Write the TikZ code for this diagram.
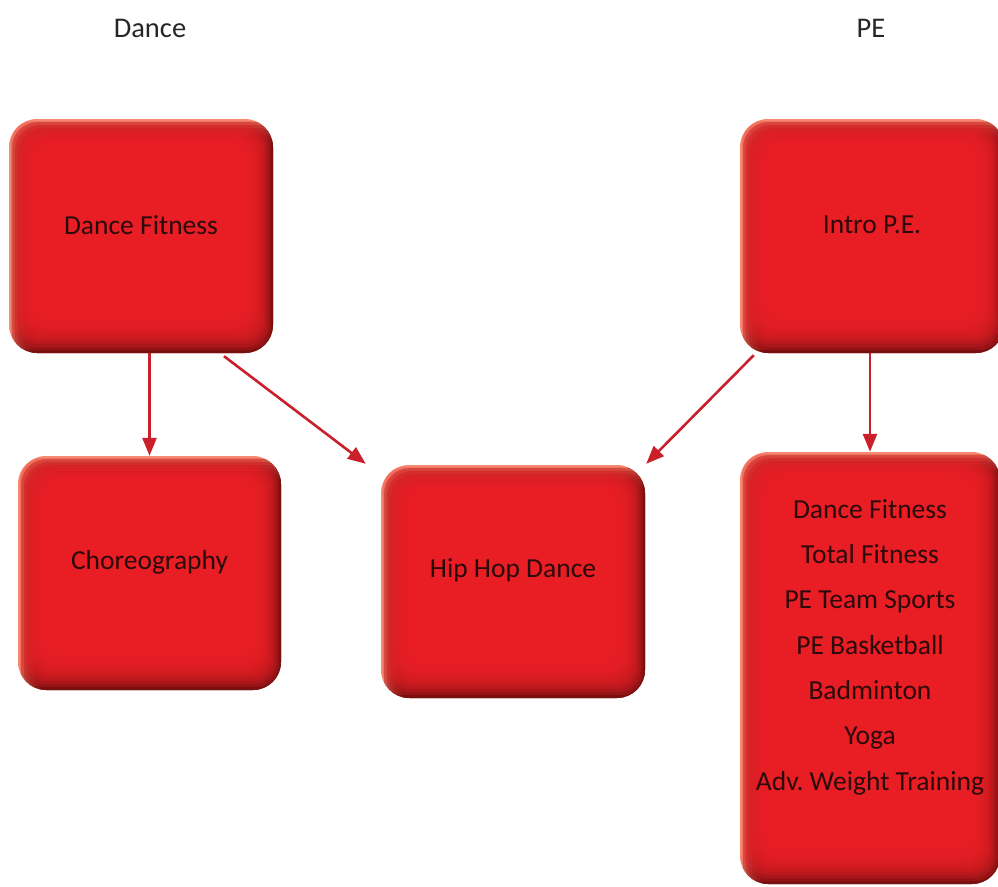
\documentclass[tikz,border=0pt]{standalone}
\usepackage{fontspec}
\setmainfont{Carlito}
\usetikzlibrary{arrows.meta}
\definecolor{tilered}{HTML}{EC2027}
\definecolor{tilelight}{HTML}{F68A70}
\definecolor{tiledark}{HTML}{680005}
\definecolor{arrowred}{HTML}{C9202B}
\definecolor{facetext}{HTML}{2A0A0A}
\definecolor{headtext}{HTML}{262626}
\tikzset{
  tile/.style={rounded corners=28pt, minimum width=264pt, minimum height=234pt, inner sep=0pt,
    fill=tilelight,
    path picture={
      \foreach \k in {1,...,6}
        \fill[tiledark, opacity=0.3, rounded corners=26pt]
          ([xshift=\k*3pt, yshift=-\k*3pt]path picture bounding box.north west) rectangle
          ([xshift=10pt, yshift=-10pt]path picture bounding box.south east);
      \foreach \k in {1,...,18}
        \fill[tilered, opacity=0.25, rounded corners=22pt]
          ([xshift=\k*2pt, yshift=-\k*2pt]path picture bounding box.north west) rectangle
          ([xshift=-\k*2.2pt, yshift=\k*3pt]path picture bounding box.south east);
    }},
  face/.style={font=\fontsize{27.5}{45.3}\selectfont, text=facetext, align=center, inner sep=0pt, yshift=#1},
  face/.default=11pt,
  head/.style={font=\fontsize{28.5}{34}\selectfont, text=headtext},
  link/.style={draw=arrowred, line width=2.6pt, -{Triangle[length=18pt,width=14pt]}}
}
\frenchspacing
\begin{document}
\begin{tikzpicture}[x=1pt, y=-1pt]
\useasboundingbox (0,0) rectangle (998,886);
\clip (0,0) rectangle (998,886);
\node[head] (danceHead) at (150,28) {Dance};
\node[head] (peHead) at (871,28) {PE};

\node[tile, label={[face]center:Dance Fitness}] (danceFit) at (141,236) {};
\node[tile, minimum width=263pt, label={[face]center:Choreography}] (choreo) at (149.5,573) {};
\node[tile, minimum height=233pt, label={[face]center:Hip Hop Dance}] (hiphop) at (513,581.5) {};
\node[tile, label={[face]center:Intro P.E.}] (introPE) at (872,236) {};
\node[tile, minimum width=260pt, minimum height=432pt,
  label={[face=21pt]center:{Dance Fitness\\Total Fitness\\PE Team Sports\\PE Basketball\\Badminton\\Yoga\\Adv. Weight Training}}] (peList) at (870,668) {};

\draw[link] (danceFit.south -| choreo.north) -- (choreo.north);
\draw[link] ([xshift=83pt, yshift=-3pt]danceFit.south) -- ([xshift=-15pt, yshift=1pt]hiphop.north west);
\draw[link] ([xshift=14pt, yshift=-2pt]introPE.south west) -- ([xshift=1pt, yshift=1pt]hiphop.north east);
\draw[link] (introPE.south -| peList.north) -- (peList.north);
\end{tikzpicture}
\end{document}
